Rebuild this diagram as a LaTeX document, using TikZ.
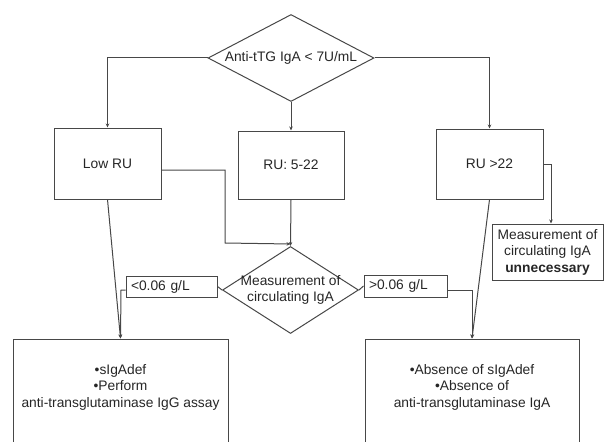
\documentclass[tikz,border=0pt]{standalone}
\usepackage{fontspec}
\setmainfont{Liberation Sans}
\usetikzlibrary{shapes.geometric,arrows.meta}
\begin{document}
\begin{tikzpicture}[x=1pt,y=-1pt,
  every node/.style={font=\fontsize{13.8}{16.5}\selectfont, text=black!85},
  ln/.style={draw=black!72, line width=1pt},
  arr/.style={ln, -{Stealth[length=4pt,width=3.5pt]}},
  dia/.style={ln, shape=diamond, inner sep=0pt},
  box/.style={ln, rectangle, inner sep=0pt, align=center},
  lbl/.style={ln, rectangle, inner sep=0pt, text width=#1, align=left}
]
\useasboundingbox (0,0) rectangle (604,441);
\clip (0,0) rectangle (604,441);

% decision diamonds
\node[dia, minimum width=166pt, minimum height=87pt,
      label={center:Anti-tTG IgA < 7U/mL}] (d1) at (291,58) {};
\node[dia, minimum width=136pt, minimum height=87pt,
      label={[align=center]center:Measurement of\\circulating IgA}] (d2) at (290.5,290) {};

% RU boxes
\node[box, minimum width=107pt, minimum height=71pt] (low) at (107.5,163.5) {Low RU};
\node[box, minimum width=106pt, minimum height=68pt] (mid) at (291,165) {RU: 5-22};
\node[box, minimum width=107pt, minimum height=70pt] (high) at (489.5,164) {RU >22};

% result box
\node[box, minimum width=111pt, minimum height=56pt] (meas) at (547.5,252)
  {Measurement of\\circulating IgA\\\textbf{unnecessary}};

% threshold labels
\node[lbl=81pt, minimum width=91pt, minimum height=21pt] (lt) at (171.5,286.5) {<0.06 g/L};
\node[lbl=73pt, minimum width=83pt, minimum height=22pt] (gt) at (405.5,286) {>0.06 g/L};

% bottom boxes (run past the lower edge)
\node[box, minimum width=215pt, minimum height=131pt,
      label={[align=center, yshift=17.5pt]center:•sIgAdef\\•Perform\\anti-transglutaminase IgG assay}] (bl) at (120.5,404.5) {};
\node[box, minimum width=214pt, minimum height=131pt,
      label={[align=center, yshift=17.5pt]center:•Absence of sIgAdef\\•Absence of\\anti-transglutaminase IgA}] (br) at (472,404.5) {};

% connectors
\draw[arr] (d1.west) -| (low.north);
\draw[arr] (d1.east) -| (high.north);
\draw[arr] (d1.south) -- (mid.north);

\draw[arr] (low.east |- 0,170) -| (225,243) -- (d2.north |- 0,244);
\draw[arr] (mid.south) -- (d2.north);

\draw[arr] (high.east |- 0,164) -- (551,164) -- (551,0 |- meas.north);

\draw[arr] (low.south) -- (bl.north);
\draw[arr] (high.south) -- (br.north);

\draw[ln] (d2.west) -- (lt.east);
\draw[ln] (d2.east) -- (gt.west);
\draw[arr] (lt.west |- 0,290) -- (121,290) -- (bl.north);
\draw[arr] (gt.east |- 0,290) -| (br.north);
\end{tikzpicture}
\end{document}
